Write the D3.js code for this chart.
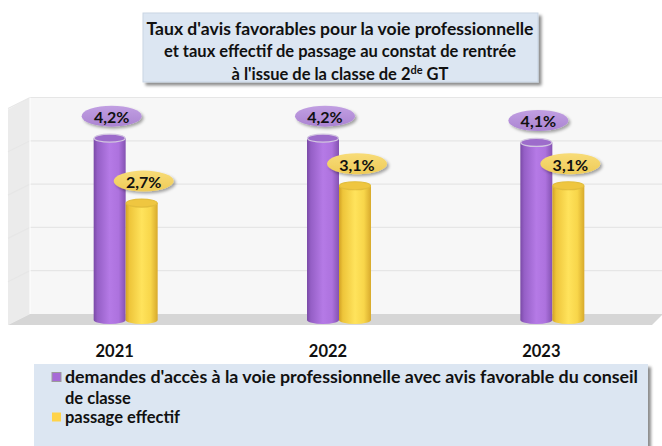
<!DOCTYPE html>
<html>
<head>
<meta charset="utf-8">
<script src="https://cdn.jsdelivr.net/npm/d3@7"></script>
<style>
  html, body { margin: 0; padding: 0; background: #ffffff; }
  svg { display: block; }
  text { font-family: Lato, "Open Sans", "Noto Sans", sans-serif; font-weight: bold; fill: #111; }
</style>
</head>
<body>
<svg id="chart" width="662" height="446"></svg>
<script>
// ---- data ----
const years = ["2021", "2022", "2023"];
const seriesNames = [
  "demandes d'accès à la voie professionnelle avec avis favorable du conseil de classe",
  "passage effectif"
];
const avisFavorable = [4.2, 4.2, 4.1];
const passageEffectif = [2.7, 3.1, 3.1];
const titleLines = [
  "Taux d'avis favorables pour la voie professionnelle",
  "et taux effectif de passage au constat de rentrée",
  "à l'issue de la classe de 2"
];
const gridTicks = [0, 1, 2, 3, 4, 5];

const series = [
  { key: "avis", values: avisFavorable, name: seriesNames[0] },
  { key: "passage", values: passageEffectif, name: seriesNames[1] }
];

const svg = d3.select("#chart");
const defs = svg.append("defs");

// soft drop shadows
function shadow(id, dx, dy, sd, op) {
  const f = defs.append("filter").attr("id", id)
    .attr("x", "-30%").attr("y", "-30%").attr("width", "160%").attr("height", "160%");
  f.append("feDropShadow").attr("dx", dx).attr("dy", dy)
    .attr("stdDeviation", sd).attr("flood-color", "#000").attr("flood-opacity", op);
}
shadow("boxShadow", 3, 3, 1.5, 0.45);
shadow("labelShadow", 2, 2, 1.5, 0.35);

// cylinder shading
function hGrad(id, stops) {
  const g = defs.append("linearGradient").attr("id", id)
    .attr("x1", "0").attr("x2", "1").attr("y1", "0").attr("y2", "0");
  stops.forEach(([o, c]) => g.append("stop").attr("offset", o).attr("stop-color", c));
}
hGrad("cylAvis", [[0, "#7a4aa6"], [0.12, "#955fc6"], [0.5, "#b57ae6"], [0.78, "#ad72de"], [1, "#8452b2"]]);
hGrad("cylPassage", [[0, "#d2a224"], [0.12, "#eec53a"], [0.5, "#ffe35c"], [0.78, "#f8d64a"], [1, "#d8aa2c"]]);

// label bubble shading
function vGrad(id, c1, c2) {
  const g = defs.append("linearGradient").attr("id", id)
    .attr("x1", "0").attr("x2", "0").attr("y1", "0").attr("y2", "1");
  g.append("stop").attr("offset", 0).attr("stop-color", c1);
  g.append("stop").attr("offset", 1).attr("stop-color", c2);
}
vGrad("lblAvis", "#c19fe2", "#ab84d2");
vGrad("lblPassage", "#f8dc78", "#eecb58");

const colors = {
  avis:    { body: "url(#cylAvis)", top: "#9d6ccb", rim: "#d2c6e0", label: "url(#lblAvis)", legend: "#a66ad6" },
  passage: { body: "url(#cylPassage)", top: "#efc640", rim: "#e2bd3c", label: "url(#lblPassage)", legend: "#ffd34a" }
};

// ---- scales (mid-depth plane of the 3D box) ----
const x = d3.scaleBand().domain(years).range([19, 659]);
const xs = d3.scaleBand().domain(series.map(s => s.key)).range([0, 64]);
const y = d3.scaleLinear().domain([0, 5]).range([320, 103.5]);

// depth offsets from the mid plane to back and front planes
const back = { dx: 11, dy: -6 };
const front = { dx: -11, dy: 5 };

// ---- walls ----
const yB = v => y(v) + back.dy;
const yF = v => y(v) + front.dy;
const xL = x.range()[0], xR = x.range()[1];

// side wall
svg.append("path")
  .attr("d", `M${xL + back.dx},${yB(5)} L${xL + front.dx},${yF(5) + 1} L${xL + front.dx},${yF(0)} L${xL + back.dx},${yB(0)} Z`)
  .attr("fill", "#ebebeb");
// back wall
svg.append("rect")
  .attr("x", xL + back.dx).attr("y", yB(5))
  .attr("width", 662 - (xL + back.dx)).attr("height", yB(0) - yB(5))
  .attr("fill", "#f7f7f7");
// floor
svg.append("path")
  .attr("d", `M${xL + back.dx},${yB(0)} L662,${yB(0)} L662,${yB(0) + 1} L${xR + front.dx + 4},${yF(0)} L${xL + front.dx},${yF(0)} Z`)
  .attr("fill", "#d6d6d6");

// gridlines on back and side walls
svg.append("g").selectAll("path")
  .data(gridTicks.slice(1))
  .join("path")
  .attr("d", d => `M${xL + front.dx},${yF(d)} L${xL + back.dx},${yB(d)} L662,${yB(d)}`)
  .attr("fill", "none")
  .attr("stroke", "#e6e6e6")
  .attr("stroke-width", 1.2);

// edge between side wall and back wall
svg.append("line")
  .attr("x1", xL + back.dx).attr("x2", xL + back.dx)
  .attr("y1", yB(5)).attr("y2", yB(0))
  .attr("stroke", "#ffffff").attr("stroke-width", 1);

// ---- cylinders ----
const ry = 4;
const groups = svg.append("g").selectAll("g")
  .data(years)
  .join("g")
  .attr("transform", d => `translate(${x(d) + x.bandwidth() / 2 - xs.bandwidth()},0)`);

series.forEach(s => {
  groups.each(function (yr, i) {
    const g = d3.select(this);
    const v = s.values[i];
    const x0 = xs(s.key);
    const w = xs.bandwidth();
    const cx = x0 + w / 2;
    const yt = y(v), yb = y(0);
    // body with rounded bottom
    g.append("path")
      .attr("d", `M${x0},${yt} L${x0},${yb} A${w / 2},${ry} 0 0 0 ${x0 + w},${yb} L${x0 + w},${yt} Z`)
      .attr("fill", colors[s.key].body);
    // top cap
    g.append("ellipse")
      .attr("cx", cx).attr("cy", yt).attr("rx", w / 2 - 0.5).attr("ry", ry)
      .attr("fill", colors[s.key].top)
      .attr("stroke", colors[s.key].rim).attr("stroke-width", 1.2);
  });
});

// ---- value labels ----
const fmt = v => d3.format(".1f")(v).replace(".", ",") + "%";
series.forEach(s => {
  groups.each(function (yr, i) {
    const g = d3.select(this);
    const v = s.values[i];
    const cx = xs(s.key) + xs.bandwidth() / 2 + 2;
    const cy = y(v) - 22;
    g.append("ellipse")
      .attr("cx", cx).attr("cy", cy).attr("rx", 30).attr("ry", 10.5)
      .attr("fill", colors[s.key].label)
      .attr("filter", "url(#labelShadow)");
    g.append("text")
      .attr("x", cx).attr("y", cy + 0.5)
      .attr("text-anchor", "middle").attr("dominant-baseline", "central")
      .attr("font-size", 16)
      .text(fmt(v));
  });
});

// ---- category labels (front edge) ----
svg.append("g").selectAll("text")
  .data(years)
  .join("text")
  .attr("x", d => x(d) + x.bandwidth() / 2 + front.dx)
  .attr("y", 351)
  .attr("text-anchor", "middle").attr("dominant-baseline", "central")
  .attr("font-size", 16.5)
  .text(d => d);

// ---- title ----
svg.append("rect")
  .attr("x", 143).attr("y", 13).attr("width", 395).attr("height", 69)
  .attr("fill", "#dce6f2").attr("stroke", "#c9d5e4").attr("stroke-width", 1)
  .attr("filter", "url(#boxShadow)");

function fit(sel, width) {
  const n = sel.node();
  const w = n.getComputedTextLength();
  if (Math.abs(w - width) > 2) sel.attr("textLength", width).attr("lengthAdjust", "spacingAndGlyphs");
}

const titleWidths = [387, 354, null];
titleLines.forEach((t, i) => {
  const tx = svg.append("text")
    .attr("x", 340).attr("y", 28.5 + i * 22.5)
    .attr("text-anchor", "middle").attr("dominant-baseline", "central")
    .attr("font-size", 16.5)
    .text(t);
  if (i === 2) {
    tx.append("tspan").attr("font-size", 11).attr("dy", -5).text("de");
    tx.append("tspan").attr("dy", 5).text(" GT");
  } else {
    fit(tx, titleWidths[i]);
  }
});

// ---- legend ----
svg.append("rect")
  .attr("x", 34).attr("y", 364).attr("width", 614).attr("height", 100)
  .attr("fill", "#dce6f2")
  .attr("filter", "url(#boxShadow)");

const legendRows = [
  { key: "avis", lines: ["demandes d'accès à la voie professionnelle avec avis favorable du conseil", "de classe"], y: 377 },
  { key: "passage", lines: [seriesNames[1]], y: 417 }
];
legendRows.forEach(r => {
  svg.append("rect")
    .attr("x", 52).attr("y", r.y - 4.5).attr("width", 9).attr("height", 9)
    .attr("fill", colors[r.key].legend)
    .attr("stroke", r.key === "avis" ? "#9b9b9b" : "none").attr("stroke-width", 1);
  r.lines.forEach((l, j) => {
    const t = svg.append("text")
      .attr("x", 65).attr("y", r.y + j * 20.5)
      .attr("dominant-baseline", "central")
      .attr("font-size", 16.5)
      .text(l);
    if (j === 0 && r.key === "avis") fit(t, 573);
  });
});
</script>
</body>
</html>
